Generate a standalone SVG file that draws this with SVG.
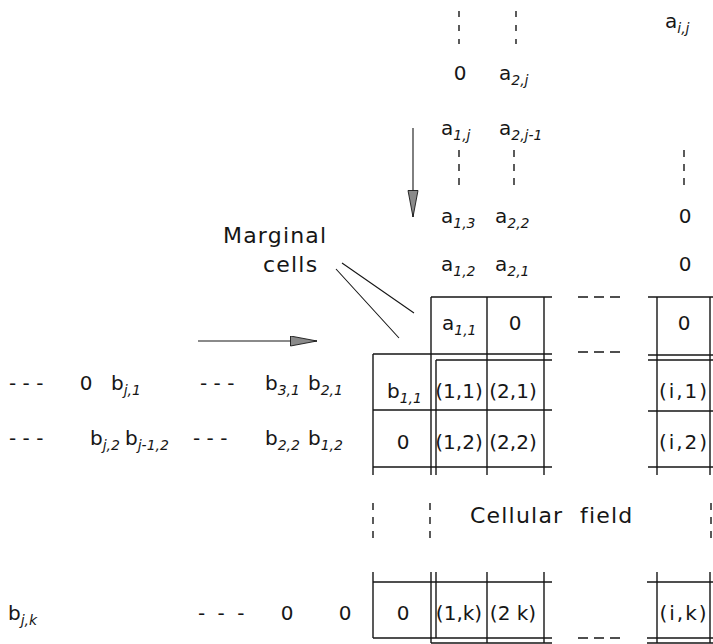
<svg xmlns="http://www.w3.org/2000/svg" width="713" height="644" viewBox="0 0 713 644">
  <defs>
    <style>
      .ln { stroke: #161616; stroke-width: 1.4; fill: none; }
      .thin { stroke: #161616; stroke-width: 1.1; fill: none; }
      .dv { stroke: #161616; stroke-width: 1.4; fill: none; stroke-dasharray: 7 7; }
      .dh { stroke: #161616; stroke-width: 1.4; fill: none; stroke-dasharray: 10 6; }
      text { font-family: "DejaVu Sans", "Liberation Sans", sans-serif; font-size: 20px; fill: #161616; }
      .m { text-anchor: middle; }
      .s { font-size: 14px; font-style: italic; }
      .lab { font-size: 22px; letter-spacing: 1.2px; }
    </style>
    <marker id="head" markerUnits="userSpaceOnUse" markerWidth="29" markerHeight="12" refX="27" refY="5.5" orient="auto">
      <path d="M0.5,0.5 L27,5.5 L0.5,10.5 Z" fill="#8a8a8a" stroke="#161616" stroke-width="0.9"/>
    </marker>
  </defs>

  <rect width="713" height="644" fill="#ffffff"/>

  <!-- incoming a-stream (columns above the field) -->
  <g id="a-stream">
    <path class="dv" d="M459,11 V44 M516,11 V44" style="stroke-dasharray:6 8"/>
    <text x="665" y="28">a<tspan class="s" dy="5">i,j</tspan></text>
    <text class="m" x="460" y="80">0</text>
    <text x="499" y="80">a<tspan class="s" dy="5">2,j</tspan></text>
    <text x="441" y="135">a<tspan class="s" dy="5">1,j</tspan></text>
    <text x="499" y="135">a<tspan class="s" dy="5">2,j-1</tspan></text>
    <path class="dv" d="M459,150 V187 M514,150 V187 M684,150 V187"/>
    <text x="441" y="223">a<tspan class="s" dy="5">1,3</tspan></text>
    <text x="495" y="223">a<tspan class="s" dy="5">2,2</tspan></text>
    <text class="m" x="685" y="223">0</text>
    <text x="441" y="271">a<tspan class="s" dy="5">1,2</tspan></text>
    <text x="495" y="271">a<tspan class="s" dy="5">2,1</tspan></text>
    <text class="m" x="685" y="271">0</text>
  </g>

  <!-- incoming b-stream (rows left of the field) -->
  <g id="b-stream">
    <text x="9" y="390">- - -</text>
    <text class="m" x="86" y="390">0</text>
    <text x="111" y="390">b<tspan class="s" dy="5">j,1</tspan></text>
    <text x="200" y="390">- - -</text>
    <text x="265" y="390">b<tspan class="s" dy="5">3,1</tspan></text>
    <text x="308" y="390">b<tspan class="s" dy="5">2,1</tspan></text>

    <text x="9" y="445">- - -</text>
    <text x="90" y="445">b<tspan class="s" dy="5">j,2</tspan></text>
    <text x="125" y="445">b<tspan class="s" dy="5">j-1,2</tspan></text>
    <text x="193" y="445">- - -</text>
    <text x="265" y="445">b<tspan class="s" dy="5">2,2</tspan></text>
    <text x="308" y="445">b<tspan class="s" dy="5">1,2</tspan></text>

    <text x="8" y="620">b<tspan class="s" dy="5">j,k</tspan></text>
    <text x="198" y="620" style="letter-spacing:3px">- - -</text>
    <text class="m" x="287" y="620">0</text>
    <text class="m" x="345" y="620">0</text>
  </g>

  <!-- cell grid: marginal row/column and cellular field with double border -->
  <g id="cell-grid">
    <path class="ln" d="
      M431,297 H552 M648,297 H713
      M373,354 H552 M436,360 H552
      M648,355 H713 M648,360 H713
      M373,410 H552 M648,411 H713
      M373,467 H552 M648,467 H713
      M373,582 H552 M647,582 H713
      M373,638 H552 M647,638 H713
      M431,643 H552 M647,643 H713
      M373,354 V475 M373,572 V638
      M431,297 V475 M431,572 V643
      M436,360 V475 M436,572 V638
      M487,297 V475 M487,572 V643
      M544,297 V475 M544,572 V643
      M657,297 V475 M657,572 V643
      M710,297 V475 M710,572 V643"/>
    <path class="dh" d="M578,297 H620 M578,352 H620 M578,638 H625"/>
    <path class="dv" d="M373,503 V542 M430,503 V542 M711,503 V542"/>
  </g>

  <g id="marginal-row">
    <text x="442" y="330">a<tspan class="s" dy="5">1,1</tspan></text>
    <text class="m" x="515" y="330">0</text>
    <text class="m" x="684" y="330">0</text>
  </g>

  <g id="marginal-column">
    <text x="387" y="398">b<tspan class="s" dy="5">1,1</tspan></text>
    <text class="m" x="403" y="449">0</text>
    <text class="m" x="403" y="620">0</text>
  </g>

  <g id="field-cells">
    <text class="m" x="459" y="398">(1,1)</text>
    <text class="m" x="513" y="398">(2,1)</text>
    <text class="m" x="684" y="398" style="letter-spacing:2px">(i,1)</text>
    <text class="m" x="459" y="449">(1,2)</text>
    <text class="m" x="513" y="449">(2,2)</text>
    <text class="m" x="684" y="449" style="letter-spacing:2px">(i,2)</text>
    <text class="m" x="459" y="620">(1,k)</text>
    <text class="m" x="513" y="620">(2 k)</text>
    <text class="m" x="684" y="620" style="letter-spacing:2px">(i,k)</text>
    <text class="lab" x="470" y="523">Cellular<tspan x="580">field</tspan></text>
  </g>

  <g id="marginal-label">
    <text class="lab" x="223" y="243">Marginal</text>
    <text class="lab" x="263" y="272">cells</text>
  </g>

  <g id="connectors">
    <path class="thin" d="M342,263 L414,313 M336,269 L399,338"/>
    <path class="thin" d="M198,341 H317" marker-end="url(#head)"/>
    <path class="thin" d="M413,128 V217" marker-end="url(#head)"/>
  </g>
</svg>
